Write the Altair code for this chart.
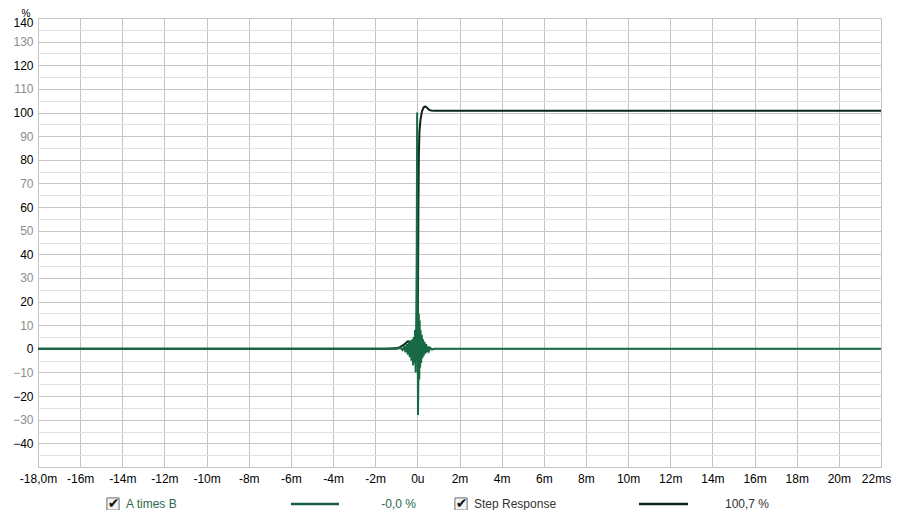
import altair as alt
import pandas as pd

# ---- data (time in ms, value in %) ----
series_names = ["A times B", "Step Response"]
series_readouts = ["-0,0 %", "100,7 %"]
series_colors = ["#176a44", "#0b2519"]

ab_t = [-18.0, -1.0, -0.8, -0.7, -0.62, -0.56, -0.5, -0.45, -0.4, -0.36, -0.32, -0.28,
        -0.24, -0.2, -0.17, -0.14, -0.11, -0.08, -0.05, -0.03, -0.01, 0.01, 0.03, 0.05,
        0.07, 0.09, 0.11, 0.13, 0.15, 0.18, 0.21, 0.24, 0.27, 0.3, 0.34, 0.38, 0.42,
        0.46, 0.5, 0.55, 0.6, 0.7, 0.8, 22.0]
ab_v = [0, 0, 0.5, -0.5, 1, -1.5, 2, -2.5, 3, -3.5, 3.5, -5,
        4, -7, 5, -6, 8, -10, 15, 40, 100, 30, -28, -12,
        15, -13, 12, -8, 8, -6, 6, -4, 4, -3, 3, -2, 2,
        -1.5, 1, -0.8, 0.5, -0.3, 0, 0]

step_t = [-18.0, -1.5, -1.0, -0.8, -0.6, -0.45, -0.35, -0.25, -0.15, -0.08, 0.0, 0.03,
          0.05, 0.07, 0.1, 0.15, 0.22, 0.3, 0.38, 0.46, 0.55, 0.65, 0.8, 22.0]
step_v = [0, 0, 0.2, 0.8, 2.0, 3.2, 3.0, 1.5, 0, -1, 0, 20,
          60, 82, 92, 97, 100.5, 102.2, 102.6, 102.0, 101.2, 100.8, 100.7, 100.7]

x_ticks = list(range(-18, 23, 2))
y_ticks = list(range(-50, 141, 5))
y_unit = "%"

rows = []
for t, v in zip(step_t, step_v):
    rows.append({"t": t, "v": v, "s": series_names[1], "o": 0})
for t, v in zip(ab_t, ab_v):
    rows.append({"t": t, "v": v, "s": series_names[0], "o": 1})
df = pd.DataFrame(rows)

FONT = "Liberation Sans"

x_enc = alt.X("t:Q", scale=alt.Scale(domain=[-18, 22], nice=False, zero=False),
              axis=alt.Axis(values=x_ticks, title=None, grid=True, gridColor="#c4c4c4",
                            gridWidth=1, ticks=False, domain=False, labelPadding=6,
                            labelFlush=False, labelOverlap=False, labelFont=FONT,
                            labelFontSize=12, labelColor="#000",
                            labelOffset={"condition": {"test": "datum.value == 22", "value": -5}, "value": 0},
                            labelExpr="datum.value == -18 ? '-18,0m' : (datum.value == 0 ? '0u' : (datum.value == 22 ? '22ms' : datum.value + 'm'))"))
y_enc = alt.Y("v:Q", scale=alt.Scale(domain=[-50, 140], nice=False, zero=False),
              axis=alt.Axis(values=y_ticks, title=None, grid=True,
                            gridColor={"condition": {"test": "datum.value % 10 === 0", "value": "#c6c6c6"}, "value": "#e0e0e0"},
                            ticks=False, domain=False, labelPadding=5, labelFont=FONT,
                            labelFontSize=12, labelFlush=False, labelOverlap=False,
                            labelOffset={"condition": {"test": "datum.value == 140", "value": 4}, "value": 0},
                            labelColor={"condition": {"test": "datum.value % 20 === 0", "value": "#000000"}, "value": "#8c8c8c"},
                            labelExpr="(datum.value % 10 === 0 && datum.value > -50) ? datum.label : ''"))

lines = alt.Chart(df).mark_line(strokeWidth=2, clip=True, interpolate="linear").encode(
    x=x_enc, y=y_enc,
    color=alt.Color("s:N", scale=alt.Scale(domain=series_names, range=series_colors), legend=None),
    order=alt.Order("o:Q"),
    detail="s:N",
)

one = pd.DataFrame({"a": [0]})
LY = 486

unit = alt.Chart(one).mark_text(fontSize=10, font=FONT, color="#000", align="center", baseline="alphabetic").encode(
    x=alt.value(-12), y=alt.value(-1), text=alt.value(y_unit))

def box(xc):
    sq = alt.Chart(one).mark_square(size=150, fill="#f2f2f2", stroke="#6e6e6e", strokeWidth=1, opacity=1).encode(
        x=alt.value(xc), y=alt.value(LY))
    ck = alt.Chart(one).mark_text(fontSize=14, fontWeight="bold", color="#111", font="DejaVu Sans").encode(
        x=alt.value(xc + 0.5), y=alt.value(LY), text=alt.value("✔"))
    return sq + ck

def txt(x, s, color, align="left"):
    return alt.Chart(one).mark_text(fontSize=12, font=FONT, color=color, align=align, baseline="middle").encode(
        x=alt.value(x), y=alt.value(LY), text=alt.value(s))

def seg(x1, x2, color):
    return alt.Chart(one).mark_rule(strokeWidth=2.5, color=color).encode(
        x=alt.value(x1), x2=alt.value(x2), y=alt.value(LY))

legend = (box(75) + txt(88, series_names[0], "#2b6a4c") + seg(253, 301, "#1d5e48")
          + txt(378, series_readouts[0], "#2b6a4c", "right")
          + box(423) + txt(436, series_names[1], "#333333") + seg(601, 650, "#0b2519")
          + txt(687, series_readouts[1], "#333333"))

chart = (lines + unit + legend).properties(
    width=843, height=449,
    autosize=alt.AutoSizeParams(type="none"),
    padding={"left": 30, "top": 10, "right": 11, "bottom": 43},
).configure_view(stroke="#a6a6a6", strokeWidth=2).configure(background="white")

chart.save("out.html", embed_options={"renderer": "svg", "actions": False})
